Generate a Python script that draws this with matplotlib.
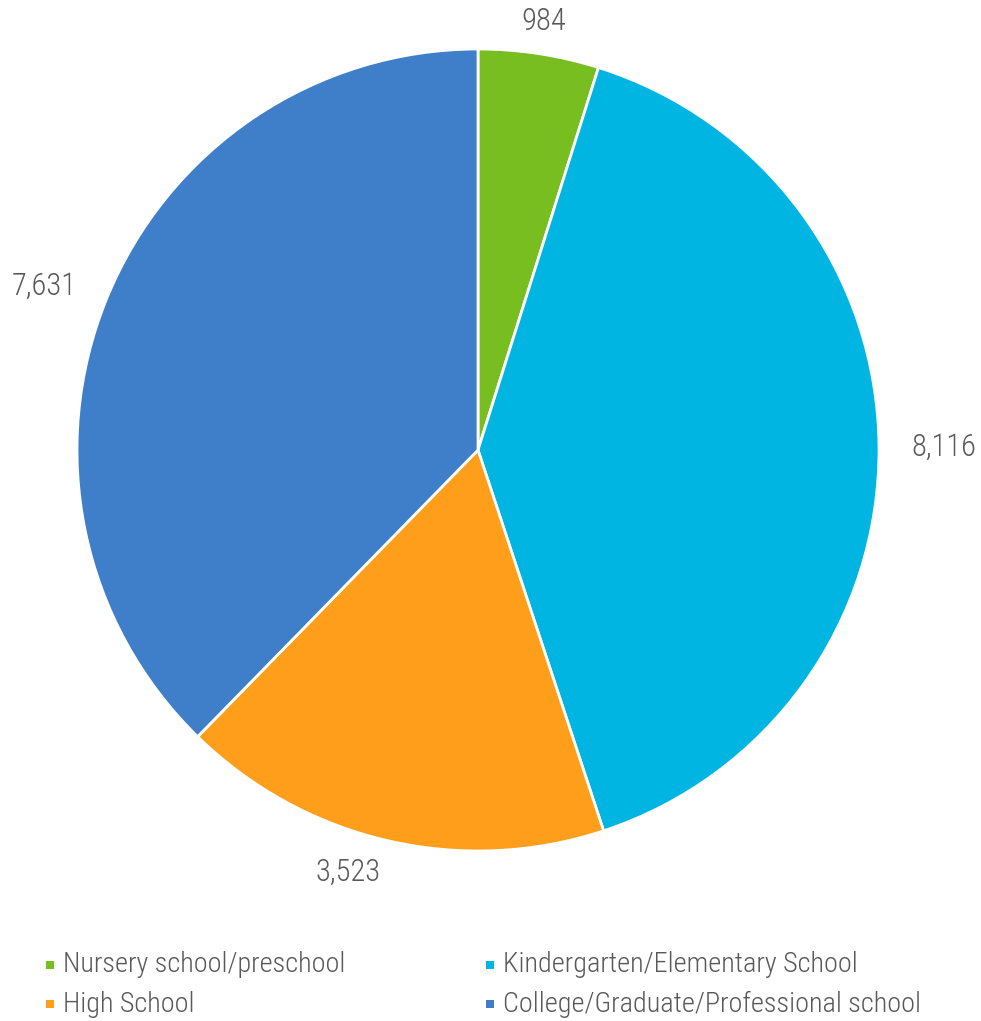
import numpy as np
import matplotlib
matplotlib.use("Agg")
import matplotlib.pyplot as plt
from matplotlib.patches import Rectangle

# enrollment by school level
categories = ["Nursery school/preschool", "Kindergarten/Elementary School",
              "High School", "College/Graduate/Professional school"]
values = [984, 8116, 3523, 7631]
colors = ["#78BE21", "#00B5E2", "#FF9E1B", "#3F7EC8"]

W, H = 981, 1021
TEXT = "#595959"
plt.rcParams["font.family"] = ["Roboto Condensed", "Lato", "DejaVu Sans"]
plt.rcParams["font.weight"] = "light"

fig = plt.figure(figsize=(W / 100, H / 100), dpi=100)
ax = fig.add_axes([0, 0, 1, 1])

cx, cy, r = 478, H - 450, 401
wedges, texts = ax.pie(values, colors=colors, startangle=90, counterclock=False,
                       center=(cx, cy), radius=r,
                       labels=[f"{v:,}" for v in values], labeldistance=1.08,
                       wedgeprops=dict(edgecolor="white", linewidth=2),
                       textprops=dict(fontsize=22, color=TEXT))
ax.set_xlim(0, W)
ax.set_ylim(0, H)
ax.set_aspect("equal")
ax.axis("off")

# align labels away from the pie; the one at the top is centred
for w, t in zip(wedges, texts):
    mid = np.deg2rad((w.theta1 + w.theta2) / 2)
    if abs(np.cos(mid)) < 0.2 and np.sin(mid) > 0:
        t.set_ha("center")
    else:
        t.set_ha("left" if np.cos(mid) > 0 else "right")
    t.set_va("center")

# legend, two columns
leg_x = [50, 490]
leg_y = [965, 1004]
for i, (name, c) in enumerate(zip(categories, colors)):
    x = leg_x[i % 2]
    y = H - leg_y[i // 2]
    ax.add_patch(Rectangle((x - 4, y - 4), 8, 8, color=c, lw=0))
    ax.text(x + 13, y, name, fontsize=20.3, color=TEXT, va="center", ha="left")

fig.savefig("out.png", dpi=100)
